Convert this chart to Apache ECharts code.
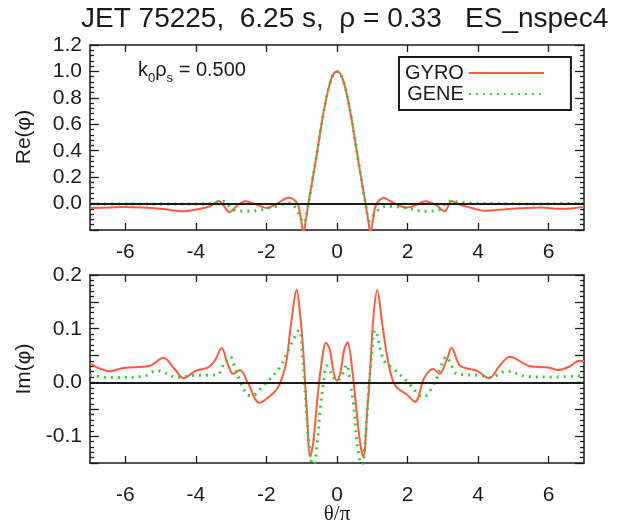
<!DOCTYPE html>
<html>
<head>
<meta charset="utf-8">
<script src="https://cdn.jsdelivr.net/npm/echarts@6/dist/echarts.min.js"></script>
<style>html,body{margin:0;padding:0;background:#fff}#c{width:624px;height:527px}</style>
</head>
<body>
<div id="c"></div>
<script>
// ---- Data ----
const xTickValues = [-6, -4, -2, 0, 2, 4, 6];

const reGyroTheta = [-7, -6.5, -6, -5.5, -5, -4.7, -4.4, -4.0, -3.6, -3.35, -3.2, -3.05, -2.85, -2.6, -2.3, -2.0, -1.7, -1.45, -1.33, -1.2, -1.1, -1.02, -0.95, -0.88, -0.81, -0.7, -0.6, -0.5, -0.4, -0.3, -0.2, -0.1, 0, 0.1, 0.2, 0.3, 0.4, 0.5, 0.6, 0.7, 0.81, 0.88, 0.95, 1.02, 1.1, 1.2, 1.32, 1.5, 1.8, 2.0, 2.25, 2.5, 2.8, 3.05, 3.25, 3.45, 3.7, 4.2, 4.7, 5.2, 5.8, 6.3, 6.7, 7];
const reGyro = [-0.033, -0.03, -0.025, -0.03, -0.04, -0.05, -0.058, -0.045, -0.02, 0.02, -0.02, -0.065, -0.02, 0.018, -0.005, -0.033, 0.0, 0.04, 0.045, 0.025, -0.01, -0.12, -0.22, -0.12, 0.0, 0.17, 0.33, 0.5, 0.66, 0.8, 0.91, 0.98, 1.0, 0.98, 0.91, 0.8, 0.66, 0.5, 0.33, 0.17, 0.0, -0.12, -0.22, -0.12, -0.01, 0.025, 0.045, 0.02, -0.02, -0.03, -0.01, 0.018, -0.01, -0.058, 0.02, -0.005, -0.025, -0.055, -0.045, -0.035, -0.03, -0.04, -0.035, -0.025];

const reGeneTheta = [-7, -6, -5, -4, -3.6, -3.23, -2.95, -2.57, -2.1, -1.72, -1.34, -1.1, -0.95, -0.81, -0.7, -0.6, -0.5, -0.4, -0.3, -0.2, -0.1, 0, 0.1, 0.2, 0.3, 0.4, 0.5, 0.6, 0.7, 0.81, 0.93, 1.12, 1.41, 1.97, 2.45, 2.92, 3.15, 3.67, 4.5, 5.5, 6.5, 7];
const reGene = [-0.004, -0.004, -0.004, -0.004, 0.0, 0.018, -0.045, -0.058, -0.045, -0.02, 0.005, -0.07, -0.145, 0.0, 0.17, 0.33, 0.5, 0.66, 0.8, 0.91, 0.98, 1.0, 0.98, 0.91, 0.8, 0.66, 0.5, 0.33, 0.17, 0.0, -0.13, -0.06, -0.02, -0.033, -0.058, -0.045, 0.018, 0.005, 0.0, -0.003, 0.0, 0.0];

const imGyroTheta = [-7, -6.43, -6.05, -5.3, -4.92, -4.6, -4.35, -4.0, -3.65, -3.45, -3.27, -3.1, -2.94, -2.75, -2.51, -2.2, -1.95, -1.71, -1.55, -1.43, -1.3, -1.14, -1.05, -0.95, -0.85, -0.76, -0.67, -0.57, -0.45, -0.31, -0.2, -0.1, 0, 0.1, 0.2, 0.3, 0.42, 0.52, 0.65, 0.75, 0.85, 0.94, 1.03, 1.14, 1.28, 1.41, 1.55, 1.69, 1.97, 2.21, 2.48, 2.73, 2.9, 3.1, 3.25, 3.49, 3.96, 4.31, 4.6, 4.9, 5.47, 5.99, 6.27, 6.6, 6.84, 7];
const imGyro = [0.035, 0.021, 0.027, 0.031, 0.046, 0.025, 0.008, 0.022, 0.028, 0.042, 0.064, 0.035, 0.016, 0.023, -0.003, -0.038, -0.028, -0.013, 0.01, 0.041, 0.11, 0.172, 0.13, 0.053, -0.06, -0.138, -0.11, -0.04, 0.03, 0.074, 0.06, 0.02, 0.003, 0.02, 0.06, 0.075, 0.03, -0.03, -0.11, -0.138, -0.06, 0.022, 0.12, 0.172, 0.11, 0.053, 0.01, -0.009, -0.022, -0.036, 0.009, 0.025, 0.016, 0.04, 0.064, 0.031, 0.022, 0.008, 0.03, 0.048, 0.03, 0.028, 0.023, 0.03, 0.04, 0.04];

const imGeneTheta = [-7, -6.5, -5.5, -5.1, -4.5, -4.1, -3.4, -3.2, -3.03, -2.88, -2.75, -2.56, -2.42, -2.09, -1.62, -1.34, -1.07, -0.98, -0.91, -0.8, -0.67, -0.57, -0.48, -0.38, -0.29, -0.15, 0, 0.15, 0.28, 0.37, 0.47, 0.58, 0.71, 0.8, 0.9, 0.98, 1.08, 1.33, 1.61, 1.97, 2.45, 2.79, 2.95, 3.1, 3.25, 3.4, 4.06, 4.33, 4.81, 5.38, 6.2, 7];
const imGene = [0.014, 0.009, 0.011, 0.022, 0.009, 0.013, 0.014, 0.035, 0.048, 0.025, 0.003, -0.022, -0.025, -0.006, 0.028, 0.066, 0.097, 0.05, -0.01, -0.11, -0.16, -0.12, -0.053, 0.0, 0.031, 0.015, 0.003, 0.015, 0.033, 0.0, -0.04, -0.12, -0.16, -0.11, -0.01, 0.05, 0.097, 0.041, 0.025, 0.003, -0.027, 0.003, 0.03, 0.048, 0.03, 0.016, 0.013, 0.009, 0.021, 0.011, 0.01, 0.013];

// ---- Styling ----
const FONT = '"Liberation Sans", Arial, Helvetica, sans-serif';
const SERIF = '"Liberation Serif", "DejaVu Serif", serif';
const RED = '#ff5a3c';
const GREEN = '#33cc33';
const INK = '#1a1a1a';

function pairs(xs, ys) { return xs.map((x, i) => [x, ys[i]]); }
const isTenth = v => Math.abs(v * 10 - Math.round(v * 10)) < 1e-6;
function frame() { return { show: true, onZero: false, lineStyle: { color: INK, width: 1.5 } }; }
function tickStyle() { return { color: INK, width: 1.3 }; }

function xa(gridIndex, pos, padTop) {
  return {
    type: 'value', gridIndex, min: -7, max: 7, position: pos,
    axisLine: frame(),
    axisTick: { show: true, inside: true, length: 7, customValues: xTickValues, lineStyle: tickStyle() },
    axisLabel: pos === 'bottom'
      ? { show: true, customValues: xTickValues, padding: [padTop, 0, 0, 0], fontSize: 21, color: INK, fontFamily: FONT }
      : { show: false },
    splitLine: { show: false }
  };
}
function ya(gridIndex, pos, min, max, interval, fmt) {
  return {
    type: 'value', gridIndex, min, max, interval, position: pos,
    axisLine: frame(),
    axisTick: { show: true, inside: true, length: 9, lineStyle: tickStyle() },
    minorTick: { show: true, splitNumber: 5, length: 4, lineStyle: tickStyle() },
    axisLabel: pos === 'left'
      ? { show: true, fontSize: 21, color: INK, fontFamily: FONT, formatter: fmt }
      : { show: false },
    splitLine: { show: false }
  };
}
const reFmt = v => (v < -0.01 ? '' : v.toFixed(1));
const imFmt = v => (isTenth(v) ? v.toFixed(1) : '');

function curve(name, gi, data, dotted) {
  return {
    name, type: 'line', xAxisIndex: gi * 2, yAxisIndex: gi * 2, data, symbol: 'none',
    smooth: 0.35, clip: true,
    lineStyle: dotted ? { color: GREEN, width: 3, type: [2, 5] } : { color: RED, width: 2 },
    color: dotted ? GREEN : RED
  };
}
function zeroMark() {
  return { silent: true, symbol: 'none', label: { show: false },
    lineStyle: { color: INK, width: 2, type: 'solid' }, data: [{ yAxis: 0 }] };
}
function axisTitle(text, x, y, rotated, family) {
  return { type: 'text', x, y, rotation: rotated ? Math.PI / 2 : 0,
    style: { text, fontSize: 21, fontFamily: family, fill: INK, align: 'center', verticalAlign: 'middle' } };
}

const chart = echarts.init(document.getElementById('c'));
const re1 = curve('GYRO', 0, pairs(reGyroTheta, reGyro), false);
re1.markLine = zeroMark();
const im1 = curve('GYRO', 1, pairs(imGyroTheta, imGyro), false);
im1.markLine = zeroMark();

chart.setOption({
  animation: false,
  backgroundColor: '#fff',
  title: { text: 'JET 75225,  6.25 s,  \u03c1 = 0.33   ES_nspec4', left: 76, top: 0,
    textStyle: { fontSize: 28, fontWeight: 'normal', color: INK, fontFamily: FONT } },
  legend: {
    data: ['GYRO', 'GENE'], orient: 'vertical', left: 399, top: 57, align: 'right',
    itemWidth: 75, itemHeight: 14, itemGap: 1, padding: [6, 26, 6, 6],
    borderColor: INK, borderWidth: 2, backgroundColor: '#fff',
    itemStyle: { opacity: 0 },
    textStyle: { fontSize: 20, color: INK, fontFamily: FONT, lineHeight: 19 }
  },
  grid: [
    { left: 90, right: 40, top: 45, height: 185 },
    { left: 90, right: 40, top: 275, height: 188 }
  ],
  xAxis: [xa(0, 'bottom', 4), xa(0, 'top', 0), xa(1, 'bottom', 14), xa(1, 'top', 0)],
  yAxis: [
    ya(0, 'left', -0.2, 1.2, 0.2, reFmt), ya(0, 'right', -0.2, 1.2, 0.2, reFmt),
    ya(1, 'left', -0.15, 0.2, 0.05, imFmt), ya(1, 'right', -0.15, 0.2, 0.05, imFmt)
  ],
  graphic: [
    axisTitle('Re(\u03c6)', 24, 137, true, FONT),
    axisTitle('Im(\u03c6)', 24, 369, true, FONT),
    axisTitle('\u03b8/\u03c0', 337, 514, false, SERIF),
    {
      type: 'text', left: 138, top: 60,
      style: {
        text: '{a|k}{s|0}{a|\u03c1}{s|s}{a| = 0.500}',
        rich: {
          a: { fontSize: 20, fontFamily: FONT, fill: INK, lineHeight: 24, verticalAlign: 'bottom' },
          s: { fontSize: 13, fontFamily: FONT, fill: INK, lineHeight: 24, verticalAlign: 'bottom', padding: [0, 0, -5, 0] }
        }
      }
    }
  ],
  series: [
    re1,
    curve('GENE', 0, pairs(reGeneTheta, reGene), true),
    im1,
    curve('GENE', 1, pairs(imGeneTheta, imGene), true)
  ]
});
</script>
</body>
</html>
